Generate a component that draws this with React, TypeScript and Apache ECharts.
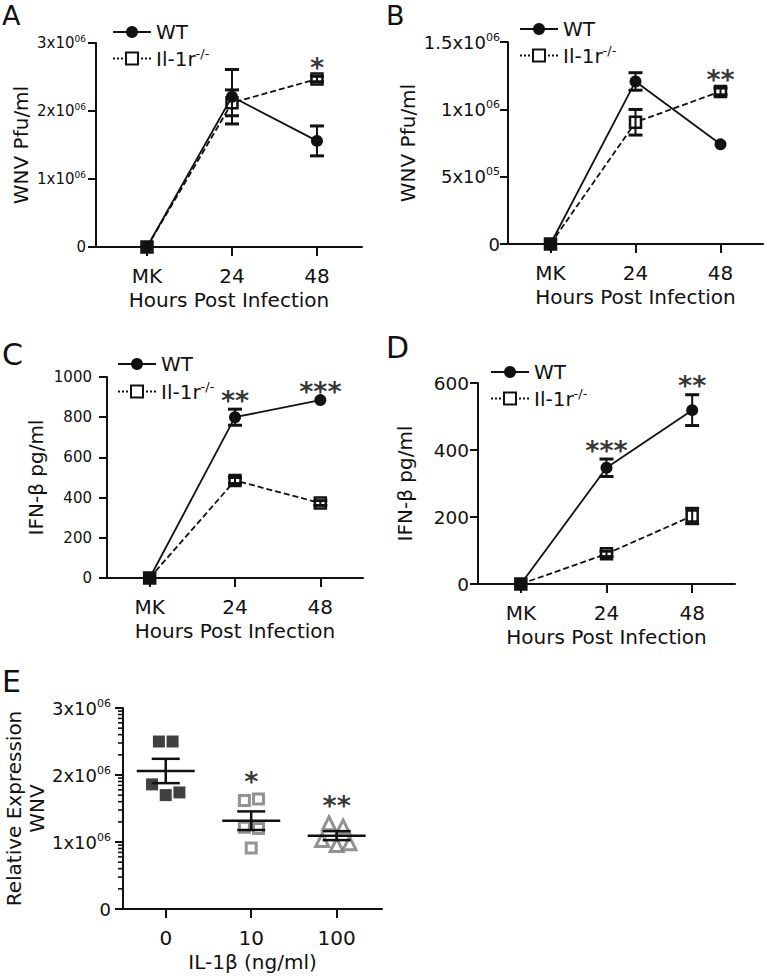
import React, { useEffect, useRef } from 'react';
import * as echarts from 'echarts';

// ---------- data ----------
const hours = ['MK', '24', '48'];

// Panel A: WNV Pfu/ml
const aWT = [0, 2.21e6, 1.56e6];
const aWTsem = [0, 0.4e6, 0.22e6];
const aKO = [0, 2.12e6, 2.47e6];
const aKOsem = [0, 0.19e6, 0.04e6];
const aSig = ['', '', '*'];

// Panel B: WNV Pfu/ml
const bWT = [0, 1.207e6, 0.74e6];
const bWTsem = [0, 0.065e6, 0];
const bKO = [0, 0.904e6, 1.133e6];
const bKOsem = [0, 0.095e6, 0.025e6];
const bSig = ['', '', '**'];

// Panel C: IFN-β pg/ml
const cWT = [0, 800, 885];
const cWTsem = [0, 40, 0];
const cKO = [0, 485, 373];
const cKOsem = [0, 15, 12];
const cSig = ['', '**', '***'];

// Panel D: IFN-β pg/ml
const dWT = [0, 347, 519];
const dWTsem = [0, 26, 46];
const dKO = [0, 90, 203];
const dKOsem = [0, 8, 23];
const dSig = ['', '***', '**'];

// Panel E: Relative expression WNV vs IL-1β dose
const doses = ['0', '10', '100'];
const e0 = [2.5e6, 2.5e6, 1.86e6, 1.7e6, 1.74e6];
const e10 = [1.62e6, 1.64e6, 1.22e6, 1.2e6, 0.91e6];
const e100 = [1.28e6, 1.23e6, 1.03e6, 0.955e6, 0.98e6];
const e0Jitter = [-0.08, 0.08, -0.16, 0, 0.16];
const e10Jitter = [-0.08, 0.085, -0.08, 0.085, 0];
const e100Jitter = [-0.09, 0.075, -0.17, 0, 0.15];
const eSig = ['', '*', '**'];
const logMinor = [0.301, 0.477, 0.602, 0.699, 0.778, 0.845, 0.903, 0.954];

// ---------- styling ----------
const FONT = 'DejaVu Sans';
const INK = '#111111';
const GREY = '#777777';

const grids = [
  { left: 96, top: 43, width: 266, height: 204 },
  { left: 508, top: 42, width: 255, height: 202 },
  { left: 107, top: 377, width: 256, height: 201 },
  { left: 478, top: 383, width: 257, height: 201 },
  { left: 123, top: 708, width: 259, height: 201 },
];
const xRanges = [[-0.6, 2.53], [-0.5, 2.5], [-0.5, 2.5], [-0.5, 2.5], [-0.5, 2.53]];
const yMax = [3e6, 1.5e6, 1000, 600, 3e6];
const yInterval = [1e6, 5e5, 200, 200, 1e6];
const yNames = ['WNV Pfu/ml', 'WNV Pfu/ml', 'IFN-β pg/ml', 'IFN-β pg/ml', 'Relative Expression\nWNV'];
const yNameGap = [64, 87, 60, 62, 74];
const yLabelMargin = [10, 8, 15, 9, 12];
const yLabelSize = [15, 18, 15, 18.5, 18];
const sciPanels = [true, true, false, false, true];

function sci(v: number): string {
  if (v === 0) return '0';
  const e = Math.floor(Math.log10(v) + 1e-9);
  const m = +(v / Math.pow(10, e)).toFixed(2);
  return `{m|${m}x10}{s|${String(e).padStart(2, '0')}}`;
}

const txt = { fontFamily: FONT, color: INK };

function errorBars(idx: number, vals: number[], sems: number[], z: number) {
  const data = vals
    .map((v, i) => [i, v - sems[i], v + sems[i], sems[i]])
    .filter((d) => d[3] > 0);
  return {
    type: 'custom',
    xAxisIndex: idx,
    yAxisIndex: idx,
    z,
    clip: false,
    data,
    renderItem: (params: any, api: any) => {
      const x = api.value(0);
      const lo = api.coord([x, api.value(1)]);
      const hi = api.coord([x, api.value(2)]);
      const hw = 7;
      return {
        type: 'group',
        children: [
          { type: 'line', shape: { x1: lo[0], y1: lo[1], x2: hi[0], y2: hi[1] }, style: { stroke: INK, lineWidth: 2 } },
          { type: 'line', shape: { x1: hi[0] - hw, y1: hi[1], x2: hi[0] + hw, y2: hi[1] }, style: { stroke: INK, lineWidth: 3 } },
          { type: 'line', shape: { x1: lo[0] - hw, y1: lo[1], x2: lo[0] + hw, y2: lo[1] }, style: { stroke: INK, lineWidth: 3 } },
        ],
      };
    },
  };
}

function stars(idx: number, anchors: number[], sig: string[], distance: number) {
  return {
    type: 'scatter',
    xAxisIndex: idx,
    yAxisIndex: idx,
    symbol: 'circle',
    symbolSize: 1,
    itemStyle: { color: 'rgba(0,0,0,0)' },
    z: 6,
    silent: true,
    data: sig
      .map((s, i) => ({ name: s, value: [i, anchors[i]] }))
      .filter((d) => d.name !== ''),
    label: {
      show: true,
      position: 'top',
      distance,
      formatter: (p: any) => p.name,
      fontFamily: FONT,
      fontWeight: 'bold',
      fontSize: 27,
      color: '#000000',
    },
  };
}

function linePanel(idx: number, wt: number[], wtSem: number[], ko: number[], koSem: number[], sig: string[]) {
  const anchors = wt.map((v, i) => Math.max(v + wtSem[i], ko[i] + koSem[i]));
  return [
    {
      type: 'line',
      name: 'KO',
      xAxisIndex: idx,
      yAxisIndex: idx,
      data: ko.map((v, i) => [i, v]),
      symbol: 'rect',
      symbolSize: 11,
      z: 2,
      lineStyle: { color: INK, width: 1.8, type: [6, 3] },
      itemStyle: { color: '#ffffff', borderColor: INK, borderWidth: 2.5 },
    },
    {
      type: 'line',
      name: 'WT',
      xAxisIndex: idx,
      yAxisIndex: idx,
      data: wt.map((v, i) => [i, v]),
      symbol: 'circle',
      symbolSize: 12,
      z: 3,
      lineStyle: { color: INK, width: 1.8 },
      itemStyle: { color: INK },
    },
    errorBars(idx, ko, koSem, 4),
    errorBars(idx, wt, wtSem, 4),
    stars(idx, anchors, sig, -5),
  ];
}

function meanSem(arr: number[]) {
  const n = arr.length;
  const mean = arr.reduce((a, b) => a + b, 0) / n;
  const sd = Math.sqrt(arr.reduce((a, b) => a + (b - mean) * (b - mean), 0) / (n - 1));
  return [mean, sd / Math.sqrt(n)];
}

function buildOption() {
  const legendPos = [
    { left: 107, top: 17, itemGap: 5 },
    { left: 514, top: 14, itemGap: 5 },
    { left: 112, top: 349, itemGap: 6 },
    { left: 485, top: 357, itemGap: 5 },
  ];

  const eGroups = [e0, e10, e100];
  const eStats = eGroups.map(meanSem);
  const eAnchors = eGroups.map((g) => Math.max(...g));

  const series: any[] = [
    ...linePanel(0, aWT, aWTsem, aKO, aKOsem, aSig),
    ...linePanel(1, bWT, bWTsem, bKO, bKOsem, bSig),
    ...linePanel(2, cWT, cWTsem, cKO, cKOsem, cSig),
    ...linePanel(3, dWT, dWTsem, dKO, dKOsem, dSig),
    {
      type: 'scatter',
      name: 'IL-1β 0',
      xAxisIndex: 4,
      yAxisIndex: 4,
      data: e0.map((v, k) => [0 + e0Jitter[k], v]),
      symbol: 'rect',
      symbolSize: 12,
      itemStyle: { color: INK },
      z: 3,
    },
    {
      type: 'scatter',
      name: 'IL-1β 10',
      xAxisIndex: 4,
      yAxisIndex: 4,
      data: e10.map((v, k) => [1 + e10Jitter[k], v]),
      symbol: 'rect',
      symbolSize: 10,
      itemStyle: { color: '#ffffff', borderColor: GREY, borderWidth: 3 },
      z: 3,
    },
    {
      type: 'scatter',
      name: 'IL-1β 100',
      xAxisIndex: 4,
      yAxisIndex: 4,
      data: e100.map((v, k) => [2 + e100Jitter[k], v]),
      symbol: 'triangle',
      symbolSize: 13,
      itemStyle: { color: '#ffffff', borderColor: GREY, borderWidth: 3 },
      z: 3,
    },
    {
      type: 'custom',
      xAxisIndex: 4,
      yAxisIndex: 4,
      z: 4,
      clip: false,
      data: eStats.map((s, i) => [i, s[0], s[0] - s[1], s[0] + s[1]]),
      renderItem: (params: any, api: any) => {
        const x = api.value(0);
        const m = api.coord([x, api.value(1)]);
        const lo = api.coord([x, api.value(2)]);
        const hi = api.coord([x, api.value(3)]);
        const st = { stroke: INK, lineWidth: 2.5 };
        return {
          type: 'group',
          children: [
            { type: 'line', shape: { x1: m[0] - 29, y1: m[1], x2: m[0] + 29, y2: m[1] }, style: st },
            { type: 'line', shape: { x1: lo[0], y1: lo[1], x2: hi[0], y2: hi[1] }, style: st },
            { type: 'line', shape: { x1: hi[0] - 14, y1: hi[1], x2: hi[0] + 14, y2: hi[1] }, style: st },
            { type: 'line', shape: { x1: lo[0] - 14, y1: lo[1], x2: lo[0] + 14, y2: lo[1] }, style: st },
          ],
        };
      },
    },
    stars(4, eAnchors, eSig, 4),
    {
      type: 'custom',
      xAxisIndex: 4,
      yAxisIndex: 4,
      z: 5,
      clip: false,
      silent: true,
      data: [0, 1, 2].flatMap((k) => logMinor.map((f) => [xRanges[4][0], (k + f) * 1e6])),
      renderItem: (params: any, api: any) => {
        const p = api.coord([api.value(0), api.value(1)]);
        return { type: 'line', shape: { x1: p[0] - 5, y1: p[1], x2: p[0], y2: p[1] }, style: { stroke: INK, lineWidth: 1.6 } };
      },
    },
  ];

  return {
    animation: false,
    backgroundColor: '#ffffff',
    textStyle: { fontFamily: FONT },
    grid: grids.map((g) => ({ ...g, containLabel: false })),
    xAxis: grids.map((g, i) => ({
      type: 'value',
      gridIndex: i,
      min: xRanges[i][0],
      max: xRanges[i][1],
      name: i < 4 ? 'Hours Post Infection' : 'IL-1β (ng/ml)',
      nameLocation: 'middle',
      nameGap: 43,
      nameTextStyle: { ...txt, fontSize: 20 },
      axisLine: { show: true, onZero: false, lineStyle: { color: INK, width: 2 } },
      axisTick: { show: true, customValues: [0, 1, 2], length: 9, lineStyle: { color: INK, width: 2 } },
      axisLabel: {
        customValues: [0, 1, 2],
        margin: 19,
        ...txt,
        fontSize: 20,
        formatter: (v: number) => (i < 4 ? hours : doses)[Math.round(v)],
      },
      splitLine: { show: false },
    })),
    yAxis: grids.map((g, i) => ({
      type: 'value',
      gridIndex: i,
      min: 0,
      max: yMax[i],
      interval: yInterval[i],
      name: yNames[i],
      nameLocation: 'middle',
      nameGap: yNameGap[i],
      nameTextStyle: { ...txt, fontSize: 20, lineHeight: 23 },
      axisLine: { show: true, onZero: false, lineStyle: { color: INK, width: 2 } },
      axisTick: { show: true, length: 8, lineStyle: { color: INK, width: 2 } },
      axisLabel: {
        margin: yLabelMargin[i],
        ...txt,
        fontSize: yLabelSize[i],
        formatter: (v: number) => (sciPanels[i] ? sci(v) : String(v)),
        rich: {
          m: { ...txt, fontSize: yLabelSize[i] },
          s: { ...txt, fontSize: Math.round(yLabelSize[i] * 0.62), padding: [0, 0, Math.round(yLabelSize[i] * 0.55), 0] },
        },
      },
      splitLine: { show: false },
    })),
    legend: legendPos.map((p) => ({
      ...p,
      orient: 'vertical',
      itemWidth: 38,
      itemHeight: 15,
      selectedMode: false,
      data: [{ name: 'WT' }, { name: 'KO', lineStyle: { type: 'dotted' } }],
      formatter: (name: string) => (name === 'KO' ? '{n|Il-1r}{s|-/-}' : '{n|WT}'),
      textStyle: {
        ...txt,
        fontSize: 20,
        rich: {
          n: { ...txt, fontSize: 20, lineHeight: 24 },
          s: { ...txt, fontSize: 13, padding: [0, 0, 10, 0] },
        },
      },
    })),
    graphic: [
      { type: 'text', x: 2, y: 2, style: { text: 'A', font: `27px "${FONT}"`, fill: INK, verticalAlign: 'top' } },
      { type: 'text', x: 386, y: 2, style: { text: 'B', font: `27px "${FONT}"`, fill: INK, verticalAlign: 'top' } },
      { type: 'text', x: 2, y: 354, style: { text: 'C', font: `30px "${FONT}"`, fill: INK, verticalAlign: 'middle' } },
      { type: 'text', x: 386, y: 347, style: { text: 'D', font: `30px "${FONT}"`, fill: INK, verticalAlign: 'middle' } },
      { type: 'text', x: 2, y: 681, style: { text: 'E', font: `30px "${FONT}"`, fill: INK, verticalAlign: 'middle' } },
    ],
    series,
  };
}

export default function App() {
  const ref = useRef<HTMLDivElement>(null);
  useEffect(() => {
    if (!ref.current) return;
    const chart = echarts.init(ref.current, undefined, { renderer: 'svg' });
    chart.setOption(buildOption() as any);
    return () => chart.dispose();
  }, []);
  return (
    <div
      ref={ref}
      style={{ position: 'fixed', left: 0, top: 0, width: 766, height: 977, background: '#fff' }}
    />
  );
}
